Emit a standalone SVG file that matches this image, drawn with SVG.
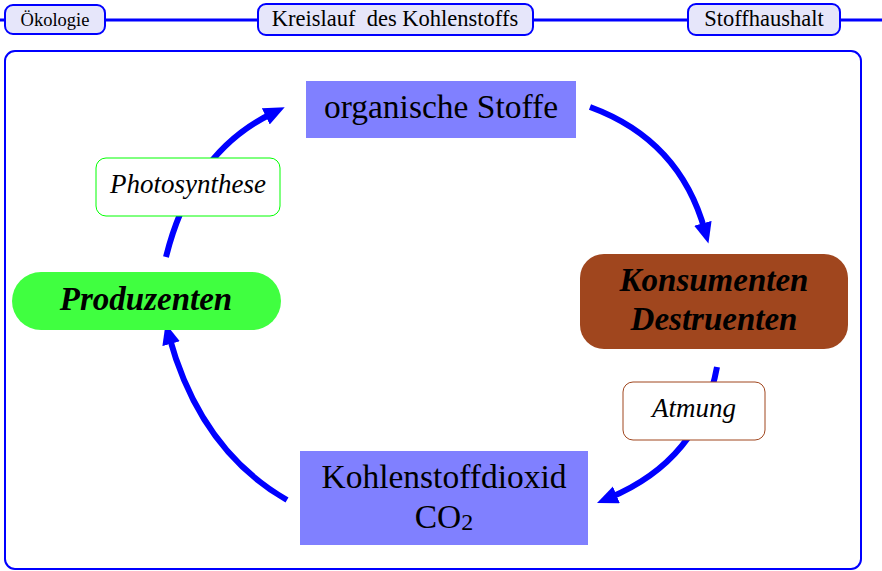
<svg xmlns="http://www.w3.org/2000/svg" width="882" height="571" viewBox="0 0 882 571">
<style>
  text { font-family: "Liberation Serif", "Times New Roman", serif; fill: #000; text-anchor: middle; }
  .tab { fill: #e6e6fa; stroke: #0000ff; stroke-width: 2; }
  .conn { fill: none; stroke: #0000ff; stroke-width: 6; }
  .big { font-size: 33.5px; }
  .bi { font-size: 33px; font-weight: bold; font-style: italic; }
  .lbl { font-size: 27px; font-style: italic; }
</style>
<defs>
  <marker id="ah" markerUnits="userSpaceOnUse" markerWidth="22" markerHeight="20" refX="8" refY="9" orient="auto">
    <path d="M0,0 L21,9 L0,18 z" fill="#0000ff"/>
  </marker>
</defs>
<rect width="882" height="571" fill="#fff"/>
<g id="header">
  <line x1="0" y1="20" x2="882" y2="20" stroke="#0000ff" stroke-width="3"/>
  <g id="tab-oekologie">
    <rect class="tab" x="5" y="5" width="100" height="29" rx="8"/>
    <text x="55" y="26" style="font-size:18.5px">Ökologie</text>
  </g>
  <g id="tab-kreislauf">
    <rect class="tab" x="258" y="4" width="275" height="31" rx="8"/>
    <text x="395" y="26" style="font-size:22.5px; white-space:pre" xml:space="preserve">Kreislauf  des Kohlenstoffs</text>
  </g>
  <g id="tab-stoffhaushalt">
    <rect class="tab" x="688" y="4" width="152" height="31" rx="8"/>
    <text x="764" y="26" style="font-size:22.5px">Stoffhaushalt</text>
  </g>
</g>
<rect id="frame" x="5" y="51" width="856" height="518" rx="10" fill="none" stroke="#0000ff" stroke-width="2"/>
<g id="connectors">
  <path class="conn" d="M166,257 Q192,152 273,113" marker-end="url(#ah)"/>
  <path class="conn" d="M590,107 Q680,140 705,231" marker-end="url(#ah)"/>
  <path class="conn" d="M717,367 Q700,460 609,498" marker-end="url(#ah)"/>
  <path class="conn" d="M287,500 Q200,450 169,336" marker-end="url(#ah)"/>
</g>
<g id="organische-stoffe">
  <rect x="306" y="81" width="270" height="57" fill="#8080ff"/>
  <text class="big" x="441" y="118">organische Stoffe</text>
</g>
<g id="konsumenten">
  <rect x="580" y="254" width="268" height="95" rx="24" fill="#a0461e"/>
  <text class="bi" x="714" y="291">Konsumenten</text>
  <text class="bi" x="714" y="330">Destruenten</text>
</g>
<g id="produzenten">
  <rect x="12" y="272" width="269" height="58" rx="29" fill="#40ff40"/>
  <text class="bi" x="146" y="310">Produzenten</text>
</g>
<g id="co2">
  <rect x="300" y="451" width="288" height="94" fill="#8080ff"/>
  <text class="big" x="444" y="488">Kohlenstoffdioxid</text>
  <text class="big" x="444" y="528">CO<tspan style="font-size:24px" dy="2">2</tspan></text>
</g>
<g id="photosynthese">
  <rect x="96" y="158" width="184" height="58" rx="10" fill="#fff" stroke="#00ff00" stroke-width="1"/>
  <text class="lbl" x="188" y="193">Photosynthese</text>
</g>
<g id="atmung">
  <rect x="623" y="382" width="142" height="58" rx="10" fill="#fff" stroke="#a0461e" stroke-width="1"/>
  <text class="lbl" x="694" y="417">Atmung</text>
</g>
</svg>
